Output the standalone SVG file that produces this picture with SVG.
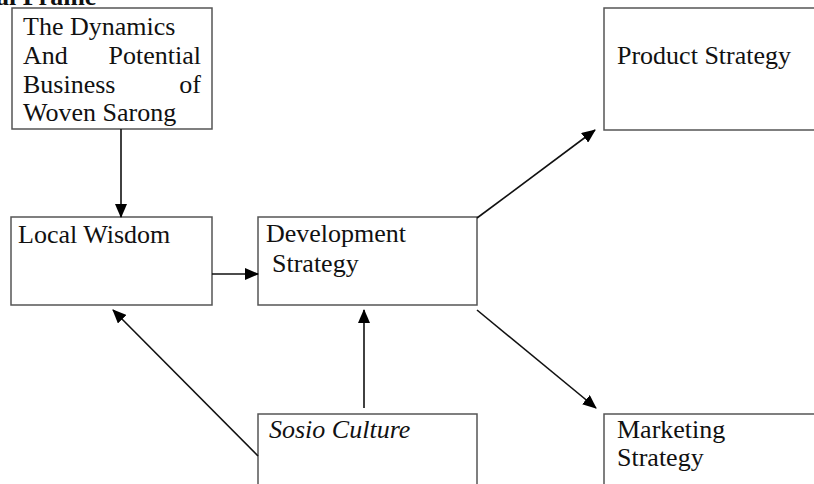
<svg xmlns="http://www.w3.org/2000/svg" width="814" height="484" viewBox="0 0 814 484">
<style>
.box{fill:#fff;stroke:#555;stroke-width:1.5}
.t{font-family:"Liberation Serif","Times New Roman",serif;font-size:26px;fill:#111}
.c{stroke:#111;stroke-width:1.6;fill:none;marker-end:url(#ah)}
</style>
<defs>
<marker id="ah" markerUnits="userSpaceOnUse" markerWidth="14" markerHeight="12" refX="13" refY="6" orient="auto">
<path d="M0,0 L14,6 L0,12 Z" fill="#000"/>
</marker>
</defs>
<rect width="814" height="484" fill="#fff"/>
<text class="t" x="-4" y="5" font-weight="bold">al Frame</text>
<g id="node-dynamics">
<rect class="box" x="12" y="8" width="200" height="121"/>
<text class="t" x="23" y="35">The Dynamics</text>
<text class="t" x="23" y="63.5">And</text>
<text class="t" x="201" y="63.5" text-anchor="end">Potential</text>
<text class="t" x="23" y="92.5">Business</text>
<text class="t" x="201" y="92.5" text-anchor="end">of</text>
<text class="t" x="23" y="121">Woven Sarong</text>
</g>
<g id="node-local">
<rect class="box" x="11" y="217" width="201" height="88"/>
<text class="t" x="18" y="243">Local Wisdom</text>
</g>
<g id="node-dev">
<rect class="box" x="258" y="217" width="219" height="88"/>
<text class="t" x="266" y="242">Development</text>
<text class="t" x="272" y="272">Strategy</text>
</g>
<g id="node-product">
<rect class="box" x="604" y="8" width="220" height="122"/>
<text class="t" x="617" y="64">Product Strategy</text>
</g>
<g id="node-sosio">
<rect class="box" x="258" y="414" width="219" height="90"/>
<text class="t" x="269" y="438" font-style="italic">Sosio Culture</text>
</g>
<g id="node-marketing">
<rect class="box" x="604" y="414" width="220" height="90"/>
<text class="t" x="617" y="438">Marketing</text>
<text class="t" x="617" y="466">Strategy</text>
</g>
<g id="connectors">
<line class="c" x1="121" y1="129" x2="121" y2="217"/>
<line class="c" x1="212" y1="274" x2="258" y2="274"/>
<line class="c" x1="364" y1="408" x2="364" y2="310"/>
<line class="c" x1="258" y1="456" x2="113" y2="310"/>
<line class="c" x1="477" y1="218" x2="595" y2="130"/>
<line class="c" x1="477" y1="310" x2="596" y2="408"/>
</g>
</svg>
